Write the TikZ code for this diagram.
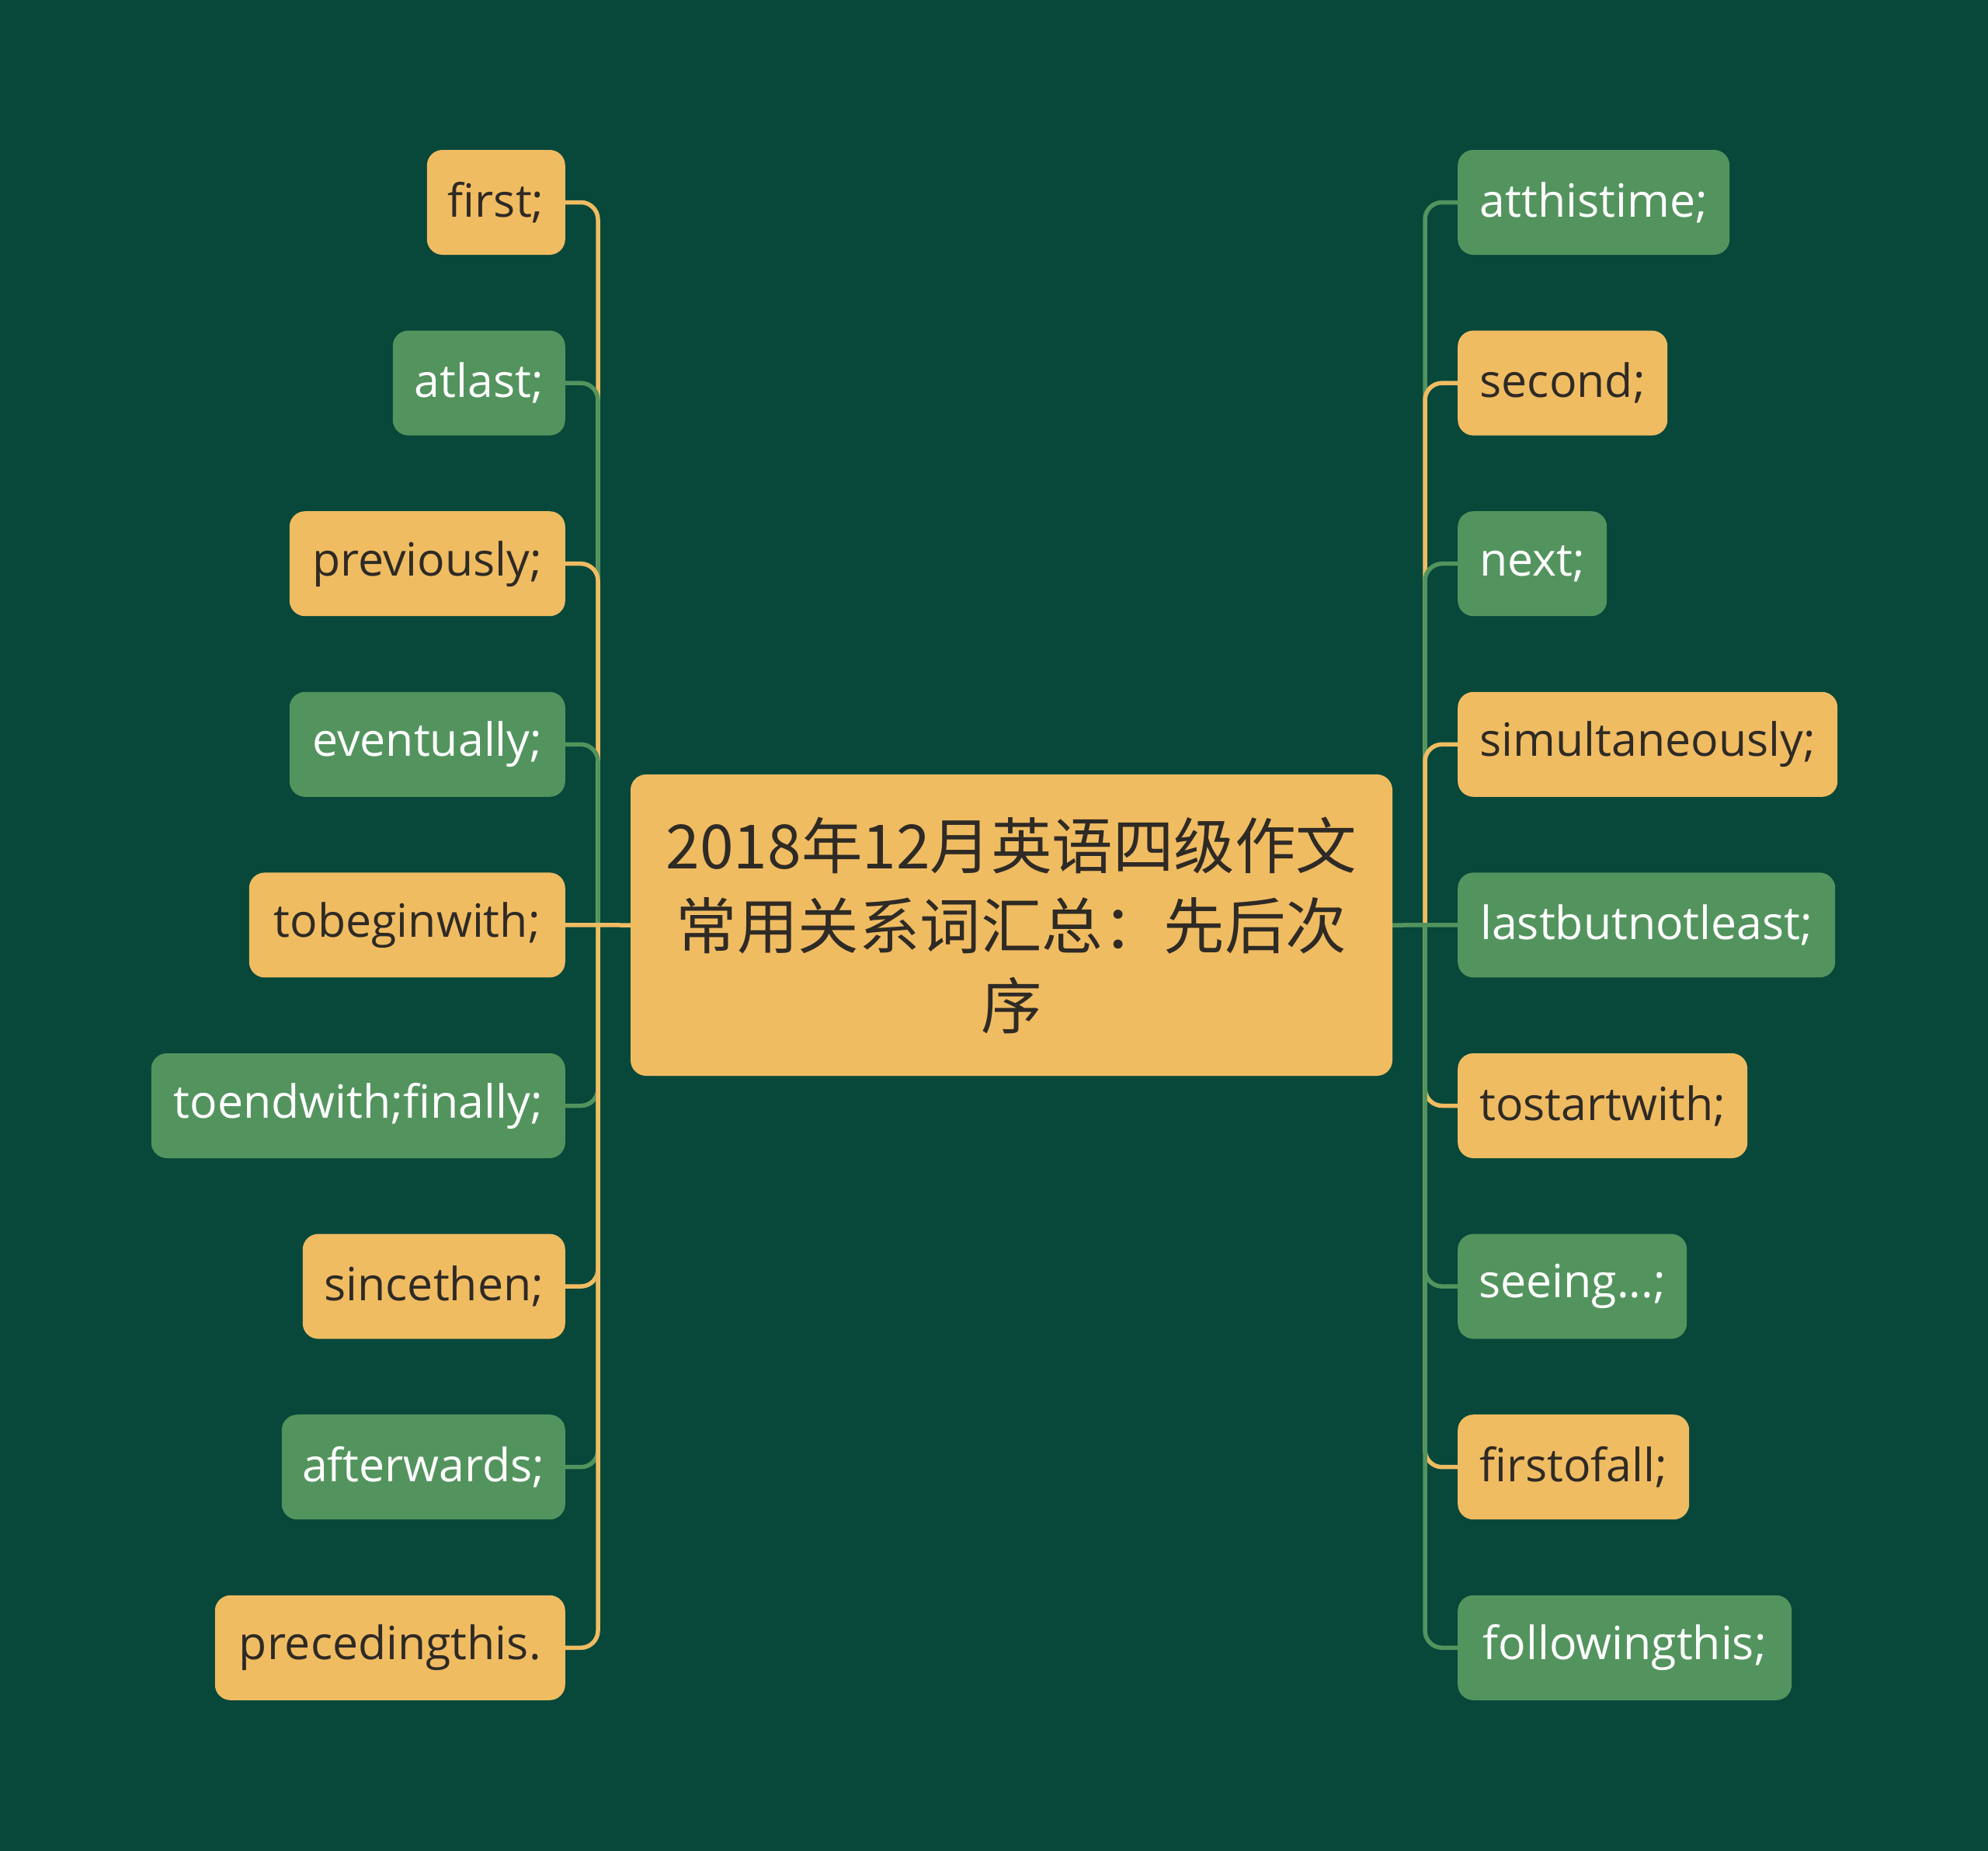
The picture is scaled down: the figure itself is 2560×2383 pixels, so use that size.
\documentclass[tikz,border=0pt]{standalone}
\usepackage{fontspec}
\setmainfont{Open Sans}
\newfontfamily\cjk{Noto Sans CJK SC}
\definecolor{bg}{RGB}{8,72,58}
\definecolor{yel}{RGB}{240,188,98}
\definecolor{grn}{RGB}{83,148,94}
\definecolor{dark}{RGB}{46,42,37}
\begin{document}
\begin{tikzpicture}[x=1pt,y=-1pt,
  leaf/.style={rounded corners=20pt,minimum height=135pt,inner xsep=0pt,inner ysep=0pt,
    font=\fontsize{59}{70}\selectfont},
  ly/.style={leaf,fill=yel,text=dark},
  lg/.style={leaf,fill=grn,text=white},
  lleft/.style={anchor=east},
  lright/.style={anchor=west},
  cy/.style={draw=yel,line width=5.5pt},
  cg/.style={draw=grn,line width=5.5pt},
  root/.style={rounded corners=20pt,fill=yel,text=dark,minimum width=981pt,minimum height=388pt,
    align=center,font=\cjk\fontsize{78.5}{103}\selectfont}]
\fill[bg] (0,0) rectangle (2560,2383);
\useasboundingbox (0,0) rectangle (2560,2383);
% root
\node[root] (c) at (1302.5,1191) {2018年12月英语四级作文\\常用关系词汇总：先后次\\序};
% trunk points
\coordinate (TL) at (770,1191);
\coordinate (TR) at (1835,1191);
% left nodes
\node[ly,lleft,minimum width=178pt] (l1) at (728,260.5) {first;};
\node[lg,lleft,minimum width=222pt] (l2) at (728,493.1) {atlast;};
\node[ly,lleft,minimum width=355pt] (l3) at (728,725.7) {previously;};
\node[lg,lleft,minimum width=355pt] (l4) at (728,958.3) {eventually;};
\node[ly,lleft,minimum width=407pt] (l5) at (728,1190.9) {tobeginwith;};
\node[lg,lleft,minimum width=533pt] (l6) at (728,1423.5) {toendwith;finally;};
\node[ly,lleft,minimum width=338pt] (l7) at (728,1656.1) {sincethen;};
\node[lg,lleft,minimum width=365pt] (l8) at (728,1888.7) {afterwards;};
\node[ly,lleft,minimum width=451pt] (l9) at (728,2121.3) {precedingthis.};
% right nodes
\node[lg,lright,minimum width=350pt] (r1) at (1877,260.5) {atthistime;};
\node[ly,lright,minimum width=270pt] (r2) at (1877,493.1) {second;};
\node[lg,lright,minimum width=192pt] (r3) at (1877,725.7) {next;};
\node[ly,lright,minimum width=489pt] (r4) at (1877,958.3) {simultaneously;};
\node[lg,lright,minimum width=486pt] (r5) at (1877,1190.9) {lastbutnotleast;};
\node[ly,lright,minimum width=373pt] (r6) at (1877,1423.5) {tostartwith;};
\node[lg,lright,minimum width=295pt] (r7) at (1877,1656.1) {seeing...;};
\node[ly,lright,minimum width=298pt] (r8) at (1877,1888.7) {firstofall;};
\node[lg,lright,minimum width=430pt] (r9) at (1877,2121.3) {followingthis;};
% connectors
\foreach \n/\s in {l1/cy,l2/cg,l3/cy,l4/cg,l6/cg,l7/cy,l8/cg,l9/cy}{
  \draw[\s,rounded corners=22pt] (TL) -- (TL |- \n.east) -- (\n.east);
}
\foreach \n/\s in {r1/cg,r2/cy,r3/cg,r4/cy,r6/cy,r7/cg,r8/cy,r9/cg}{
  \draw[\s,rounded corners=22pt] (TR) -- (TR |- \n.west) -- (\n.west);
}
\draw[cy] (c.west) -- (l5.east);
\draw[cg] (c.east) -- (r5.west);
\end{tikzpicture}
\end{document}
